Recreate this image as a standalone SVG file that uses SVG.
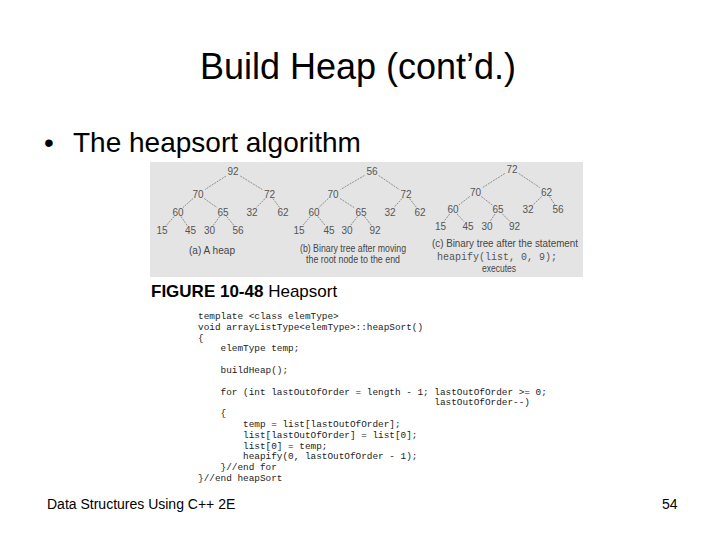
<svg xmlns="http://www.w3.org/2000/svg" width="720" height="540" viewBox="0 0 720 540">
<style>
.title{font-family:"Liberation Sans",Arial,sans-serif;font-size:36px;fill:#000}
.bullet{font-family:"Liberation Sans",Arial,sans-serif;font-size:28px;fill:#000}
.foot{font-family:"Liberation Sans",Arial,sans-serif;font-size:14px;fill:#000}
.cap{font-family:"Liberation Sans",Arial,sans-serif;font-size:17px;fill:#000}
.num{font-family:"Liberation Sans",Arial,sans-serif;font-size:10px;fill:#555;text-anchor:middle}
.tcap{font-family:"Liberation Sans",Arial,sans-serif;font-size:10.5px;fill:#444;text-anchor:middle}
.tmono{font-family:"Liberation Mono","Courier New",monospace;font-size:10px;fill:#555;text-anchor:middle}
.code{font-family:"Liberation Mono","Courier New",monospace;font-size:9.4px;fill:#222;white-space:pre}
.edge{stroke:#777;stroke-width:0.8;stroke-dasharray:2 1;fill:none}
</style>
<rect width="720" height="540" fill="#fff"/>
<text class="title" x="358" y="79" text-anchor="middle">Build Heap (cont’d.)</text>
<text class="bullet" x="44" y="152" font-size="20">•</text>
<text class="bullet" x="73" y="152">The heapsort algorithm</text>

<rect x="150" y="162" width="433" height="115" fill="#e4e4e4"/>

<g id="connectors">
<line class="edge" x1="226" y1="176" x2="205" y2="189.5"/>
<line class="edge" x1="240.3" y1="176" x2="262.2" y2="189.5"/>
<line class="edge" x1="193" y1="198.5" x2="183" y2="207.5"/>
<line class="edge" x1="204.3" y1="198.5" x2="216.8" y2="207.5"/>
<line class="edge" x1="265.1" y1="198.5" x2="256.4" y2="207.5"/>
<line class="edge" x1="272.9" y1="198.5" x2="279.6" y2="207.5"/>
<line class="edge" x1="174.1" y1="216.5" x2="165.9" y2="226"/>
<line class="edge" x1="181" y1="216.5" x2="187.5" y2="226"/>
<line class="edge" x1="219.7" y1="216.5" x2="212.8" y2="226"/>
<line class="edge" x1="226.6" y1="216.5" x2="234.4" y2="226"/>

<line class="edge" x1="364.4" y1="175.5" x2="340.6" y2="189.5"/>
<line class="edge" x1="378.7" y1="175.5" x2="399.3" y2="189.5"/>
<line class="edge" x1="328.3" y1="198.5" x2="318.8" y2="207.5"/>
<line class="edge" x1="340" y1="198.5" x2="354" y2="207.5"/>
<line class="edge" x1="402" y1="198.5" x2="394" y2="207.5"/>
<line class="edge" x1="409.5" y1="198.5" x2="416.5" y2="207.5"/>
<line class="edge" x1="310.3" y1="216.5" x2="302.8" y2="225.5"/>
<line class="edge" x1="317.8" y1="216.5" x2="325.3" y2="225.5"/>
<line class="edge" x1="357.5" y1="216.5" x2="350.5" y2="225.5"/>
<line class="edge" x1="364.5" y1="216.5" x2="371.5" y2="225.5"/>

<line class="edge" x1="504.8" y1="173.5" x2="482.7" y2="187.5"/>
<line class="edge" x1="518.8" y1="173.5" x2="539.7" y2="187.5"/>
<line class="edge" x1="469.7" y1="196.5" x2="458.8" y2="205"/>
<line class="edge" x1="481.3" y1="196.5" x2="492.2" y2="205"/>
<line class="edge" x1="541.7" y1="196.5" x2="532.8" y2="205"/>
<line class="edge" x1="549.5" y1="196.5" x2="555" y2="205"/>
<line class="edge" x1="449.6" y1="214" x2="443.9" y2="221.5"/>
<line class="edge" x1="457.1" y1="214" x2="463.9" y2="221.5"/>
<line class="edge" x1="495" y1="214" x2="490" y2="221.5"/>
<line class="edge" x1="502.5" y1="214" x2="510" y2="221.5"/>
</g>

<g id="treeA">
<g id="a92"><text class="num" x="233" y="175">92</text></g>
<g id="a70"><text class="num" x="198" y="197.5">70</text></g>
<g id="a72"><text class="num" x="269.5" y="197.5">72</text></g>
<g id="a60"><text class="num" x="178" y="215.5">60</text></g>
<g id="a65"><text class="num" x="223" y="215.5">65</text></g>
<g id="a32"><text class="num" x="252" y="215.5">32</text></g>
<g id="a62"><text class="num" x="283" y="215.5">62</text></g>
<g id="a15"><text class="num" x="162" y="234">15</text></g>
<g id="a45"><text class="num" x="190.5" y="234">45</text></g>
<g id="a30"><text class="num" x="209.5" y="234">30</text></g>
<g id="a56"><text class="num" x="238" y="234">56</text></g>
<text class="tcap" x="212" y="253.5" textLength="46" lengthAdjust="spacingAndGlyphs">(a) A heap</text>
</g>

<g id="treeB">
<g id="b56"><text class="num" x="372" y="174.5">56</text></g>
<g id="b70"><text class="num" x="333" y="197.5">70</text></g>
<g id="b72"><text class="num" x="406" y="197.5">72</text></g>
<g id="b60"><text class="num" x="314" y="215.5">60</text></g>
<g id="b65"><text class="num" x="361" y="215.5">65</text></g>
<g id="b32"><text class="num" x="390" y="215.5">32</text></g>
<g id="b62"><text class="num" x="420" y="215.5">62</text></g>
<g id="b15"><text class="num" x="299" y="233.5">15</text></g>
<g id="b45"><text class="num" x="329" y="233.5">45</text></g>
<g id="b30"><text class="num" x="347" y="233.5">30</text></g>
<g id="b92"><text class="num" x="375" y="233.5">92</text></g>
<text class="tcap" x="353" y="251.5" textLength="106" lengthAdjust="spacingAndGlyphs">(b) Binary tree after moving</text>
<text class="tcap" x="353" y="262.5" textLength="94" lengthAdjust="spacingAndGlyphs">the root node to the end</text>
</g>

<g id="treeC">
<g id="c72"><text class="num" x="512" y="172.5">72</text></g>
<g id="c70"><text class="num" x="475.5" y="195.5">70</text></g>
<g id="c62"><text class="num" x="546.5" y="195.5">62</text></g>
<g id="c60"><text class="num" x="453" y="213">60</text></g>
<g id="c65"><text class="num" x="498" y="213">65</text></g>
<g id="c32"><text class="num" x="528" y="213">32</text></g>
<g id="c56"><text class="num" x="558" y="213">56</text></g>
<g id="c15"><text class="num" x="440.5" y="229.5">15</text></g>
<g id="c45"><text class="num" x="468" y="229.5">45</text></g>
<g id="c30"><text class="num" x="487" y="229.5">30</text></g>
<g id="c92"><text class="num" x="514.5" y="229.5">92</text></g>
<text class="tcap" x="505" y="246.5" textLength="146" lengthAdjust="spacingAndGlyphs">(c) Binary tree after the statement</text>
<text class="tmono" x="497" y="259.5" textLength="120" lengthAdjust="spacingAndGlyphs">heapify(list, 0, 9);</text>
<text class="tcap" x="499" y="271.5" textLength="34" lengthAdjust="spacingAndGlyphs">executes</text>
</g>

<text class="cap" x="151" y="297"><tspan font-weight="bold">FIGURE 10-48</tspan> Heapsort</text>

<g id="code">
<text class="code" x="198" y="319">template &lt;class elemType&gt;</text>
<text class="code" x="198" y="329.8">void arrayListType&lt;elemType&gt;::heapSort()</text>
<text class="code" x="198" y="340.6">{</text>
<text class="code" x="198" y="351.4">    elemType temp;</text>
<text class="code" x="198" y="373">    buildHeap();</text>
<text class="code" x="198" y="394.6">    for (int lastOutOfOrder = length - 1; lastOutOfOrder &gt;= 0;</text>
<text class="code" x="198" y="405.4">                                          lastOutOfOrder--)</text>
<text class="code" x="198" y="416.2">    {</text>
<text class="code" x="198" y="427">        temp = list[lastOutOfOrder];</text>
<text class="code" x="198" y="437.8">        list[lastOutOfOrder] = list[0];</text>
<text class="code" x="198" y="448.6">        list[0] = temp;</text>
<text class="code" x="198" y="459.4">        heapify(0, lastOutOfOrder - 1);</text>
<text class="code" x="198" y="470.2">    }//end for</text>
<text class="code" x="198" y="481">}//end heapSort</text>
</g>

<text class="foot" x="47" y="509">Data Structures Using C++ 2E</text>
<text class="foot" x="662" y="509">54</text>
</svg>
